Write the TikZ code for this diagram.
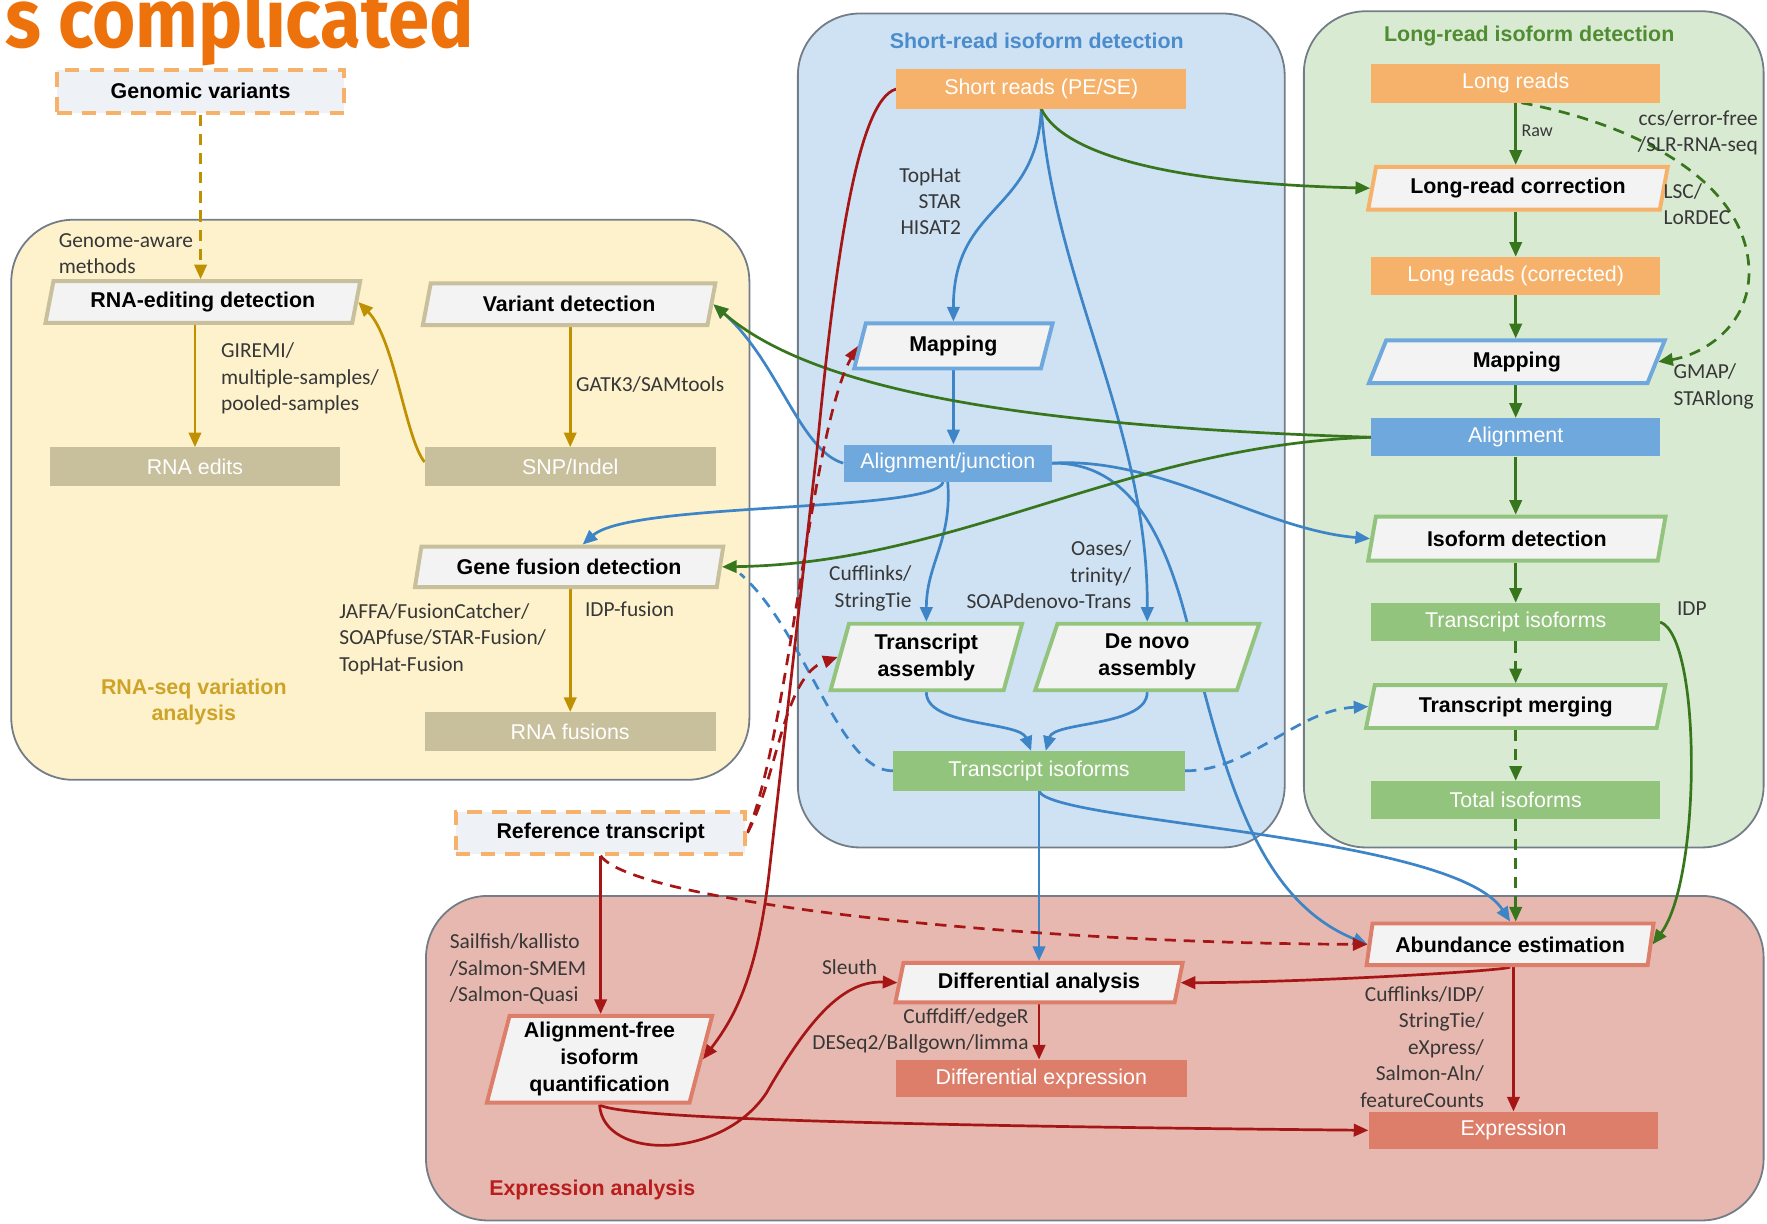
\documentclass[tikz,border=0pt]{standalone}
\usepackage{fontspec}
\usepackage{graphicx}
\setmainfont{Liberation Sans}
\newfontfamily\labfont{Carlito}
\newfontfamily\titlefont{Fira Sans}
\usetikzlibrary{shapes.geometric,arrows.meta}
\pgfdeclarelayer{panels}
\pgfdeclarelayer{edges}
\pgfsetlayers{panels,edges,main}
\definecolor{titleorange}{RGB}{238,114,12}
\definecolor{yfill}{RGB}{254,242,205}
\definecolor{bfill}{RGB}{207,226,243}
\definecolor{gfill}{RGB}{217,234,211}
\definecolor{rfill}{RGB}{231,184,175}
\definecolor{panelline}{RGB}{115,125,135}
\definecolor{procfill}{RGB}{243,243,243}
\definecolor{dfill}{RGB}{238,241,246}
\definecolor{orangebox}{RGB}{246,178,107}
\definecolor{bluebox}{RGB}{111,168,220}
\definecolor{greenbox}{RGB}{147,196,125}
\definecolor{tanbox}{RGB}{200,191,156}
\definecolor{salmonbox}{RGB}{221,126,107}
\definecolor{ochre}{RGB}{191,144,0}
\definecolor{ablue}{RGB}{61,133,198}
\definecolor{agreen}{RGB}{56,118,29}
\definecolor{ared}{RGB}{166,22,22}
\definecolor{toolgray}{RGB}{55,55,55}
\definecolor{ytitle}{RGB}{205,163,40}
\definecolor{btitle}{RGB}{75,140,205}
\definecolor{gtitle}{RGB}{80,140,50}
\definecolor{rtitle}{RGB}{185,30,30}
\tikzset{
 panel/.style={draw=panelline, line width=1.6pt, rounded corners=55pt},
 data/.style={rectangle, draw=none, text=white, minimum height=34pt, inner sep=0pt, font=\fontsize{19}{23}\selectfont},
 proc/.style={trapezium, trapezium left angle=76, trapezium right angle=104, trapezium stretches=true, fill=procfill, line width=3.5pt, inner sep=2pt, align=center, font=\bfseries\fontsize{19}{24}\selectfont},
 dbox/.style={rectangle, draw=orangebox, fill=dfill, line width=3.5pt, dash pattern=on 13pt off 9pt, inner sep=0pt, font=\bfseries\fontsize{19}{23}\selectfont},
 tool/.style={font=\labfont\fontsize{19}{23.5}\selectfont, text=toolgray, inner sep=0pt},
 ptitle/.style={font=\bfseries\fontsize{19}{23}\selectfont, inner sep=0pt, align=center},
 ar/.style={line width=2.4pt, -{Triangle[length=13pt,width=11pt]}},
 yar/.style={ar, draw=ochre},
 bar/.style={ar, draw=ablue},
 gar/.style={ar, draw=agreen},
 rar/.style={ar, draw=ared},
 dsh/.style={dash pattern=on 10pt off 7pt}
}
\begin{document}
\begin{tikzpicture}[x=1pt,y=-1pt]
\useasboundingbox (0,0) rectangle (1568,1086);

% title
\node[anchor=base east, text=titleorange, inner sep=0pt] (ttl) at (421,42)
  {\scalebox{0.89}[1]{\titlefont\bfseries\fontsize{74}{74}\selectfont ’s complicated}};

% panel titles
\node[ptitle, text=btitle] (sttl) at (920,36) {Short-read isoform detection};
\node[ptitle, text=gtitle] (lttl) at (1357,32) {Long-read isoform detection};
\node[ptitle, text=ytitle] (yttl) at (172,623) {RNA-seq variation\\analysis};
\node[ptitle, text=rtitle, anchor=west] (rttl) at (434,1056) {Expression analysis};

% dashed input boxes
\node[dbox, minimum width=255pt, minimum height=38pt] (genvar) at (178,81) {Genomic variants};
\node[dbox, minimum width=257pt, minimum height=37pt] (reftr) at (533,739) {Reference transcript};

% variation panel
\node[proc, draw=tanbox, minimum width=280pt, minimum height=37pt] (rnaed) at (180,268) {RNA-editing detection};
\node[proc, draw=tanbox, minimum width=260pt, minimum height=37pt] (vardet) at (505,270) {Variant detection};
\node[proc, draw=tanbox, minimum width=274pt, minimum height=36pt] (gfd) at (505,503) {Gene fusion detection};
\node[data, fill=tanbox, minimum width=258pt] (rnaedits) at (173,414) {RNA edits};
\node[data, fill=tanbox, minimum width=258pt] (snp) at (506,414) {SNP/Indel};
\node[data, fill=tanbox, minimum width=258pt] (rnafus) at (506,649) {RNA fusions};

% short-read panel
\node[data, fill=orangebox, minimum width=257pt, minimum height=35pt] (sreads) at (924,79) {Short reads (PE/SE)};
\node[proc, draw=bluebox, minimum width=177pt, minimum height=40pt] (mapS) at (846,307) {Mapping};
\node[data, fill=bluebox, minimum width=185pt, minimum height=33pt] (alj) at (841,411) {Alignment/junction};
\node[proc, draw=greenbox, minimum width=170pt, minimum height=59pt] (tasm) at (822,583) {Transcript\\assembly};
\node[proc, draw=greenbox, minimum width=199pt, minimum height=59pt] (dnovo) at (1018,583) {De novo\\assembly};
\node[data, fill=greenbox, minimum width=259pt, minimum height=35pt] (tisoS) at (922,684) {Transcript isoforms};

% long-read panel
\node[data, fill=orangebox, minimum width=256pt] (lreads) at (1345,74) {Long reads};
\node[proc, draw=orangebox, minimum width=266pt, minimum height=38pt] (lrc) at (1347,167) {Long-read correction};
\node[data, fill=orangebox, minimum width=256pt] (lrcorr) at (1345,245) {Long reads (corrected)};
\node[proc, draw=bluebox, minimum width=264pt, minimum height=38pt] (mapL) at (1346,321) {Mapping};
\node[data, fill=bluebox, minimum width=256pt] (alnL) at (1345,388) {Alignment};
\node[proc, draw=greenbox, minimum width=264pt, minimum height=39pt] (isod) at (1346,478) {Isoform detection};
\node[data, fill=greenbox, minimum width=256pt] (tisoL) at (1345,552) {Transcript isoforms};
\node[proc, draw=greenbox, minimum width=266pt, minimum height=38pt] (tmerge) at (1345,627) {Transcript merging};
\node[data, fill=greenbox, minimum width=256pt] (totiso) at (1345,710) {Total isoforms};

% expression panel
\node[proc, draw=salmonbox, minimum width=255pt, minimum height=37pt] (abund) at (1340,838) {Abundance estimation};
\node[proc, draw=salmonbox, minimum width=255pt, minimum height=35pt] (diffa) at (922,872) {Differential analysis};
\node[proc, draw=salmonbox, minimum width=200pt, minimum height=77pt] (afq) at (532,940) {Alignment-free\\isoform\\quantification};
\node[data, fill=salmonbox, minimum width=258pt, minimum height=33pt] (diffexp) at (924,957) {Differential expression};
\node[data, fill=salmonbox, minimum width=257pt, minimum height=33pt] (expr) at (1343,1003) {Expression};

% tool labels
\node[tool, anchor=west, align=left] (lgen) at (52,225) {Genome-aware\\methods};
\node[tool, anchor=west, align=left] (lgir) at (196,336) {GIREMI/\\multiple-samples/\\pooled-samples};
\node[tool, anchor=west] (lgatk) at (511,341) {GATK3/SAMtools};
\node[tool, anchor=west, align=left] (ljaffa) at (301,567) {JAFFA/FusionCatcher/\\SOAPfuse/STAR-Fusion/\\TopHat-Fusion};
\node[tool, anchor=west] (lidpf) at (519,541) {IDP-fusion};
\node[tool, anchor=east, align=right] (ltop) at (853,179) {TopHat\\STAR\\HISAT2};
\node[tool, anchor=east, align=right] (lcuff) at (809,522) {Cufflinks/\\StringTie};
\node[tool, anchor=east, align=right] (loas) at (1004,510) {Oases/\\trinity/\\SOAPdenovo-Trans};
\node[tool, anchor=west, font=\labfont\fontsize{16}{19}\selectfont] (lraw) at (1350,116) {Raw};
\node[tool, anchor=east, align=right] (lccs) at (1560,118) {ccs/error-free\\/SLR-RNA-seq};
\node[tool, anchor=west, align=left] (llsc) at (1476,181) {LSC/\\LoRDEC};
\node[tool, anchor=west, align=left] (lgmap) at (1485,343) {GMAP/\\STARlong};
\node[tool, anchor=west] (lidp) at (1488,540) {IDP};
\node[tool, anchor=west, align=left] (lsail) at (399,860) {Sailfish/kallisto\\/Salmon-SMEM\\/Salmon-Quasi};
\node[tool] (lsle) at (754,858) {Sleuth};
\node[tool, anchor=east, align=right] (lcdiff) at (913,915) {Cuffdiff/edgeR\\DESeq2/Ballgown/limma};
\node[tool, anchor=east, align=right] (lcl) at (1317,929) {Cufflinks/IDP/\\StringTie/\\eXpress/\\Salmon-Aln/\\featureCounts};

\begin{pgfonlayer}{panels}
\fill[bfill, rounded corners=55pt] (708,12) rectangle (1140,752);
\draw[panel] (708,12) rectangle (1140,752);
\fill[gfill, rounded corners=55pt] (1157,10) rectangle (1565,752);
\draw[panel] (1157,10) rectangle (1565,752);
\fill[rfill, rounded corners=55pt] (378,795) rectangle (1565,1083);
\draw[panel] (378,795) rectangle (1565,1083);
\fill[yfill, rounded corners=55pt] (10,195) rectangle (665,692);
\draw[panel] (10,195) rectangle (665,692);
\end{pgfonlayer}

\begin{pgfonlayer}{edges}
% yellow
\draw[yar, dsh] (genvar.south) -- (genvar.south |- rnaed.north);
\draw[yar] (rnaedits.north |- rnaed.south) -- (rnaedits.north);
\draw[yar] (snp.north |- vardet.south) -- (snp.north);
\draw[yar] ([yshift=4pt]snp.west) .. controls (360,390) and (350,300) .. (rnaed.east);
\draw[yar] (rnafus.north |- gfd.south) -- (rnafus.north);
% blue
\draw[bar] (sreads.south) .. controls (920,190) and (846,180) .. (mapS.north);
\draw[bar] (sreads.south) .. controls (935,250) and (1019,380) .. (dnovo.north);
\draw[bar] (mapS.south) -- (mapS.south |- alj.north);
\draw[bar] (alj.west) .. controls (710,400) and (690,320) .. (vardet.east);
\draw[bar] ([xshift=-4pt]alj.south) .. controls (830,455) and (560,445) .. ([xshift=12pt]gfd.north);
\draw[bar] (alj.south) .. controls (845,480) and (822,500) .. (tasm.north);
\draw[bar] (alj.east) .. controls (1030,405) and (1120,470) .. (isod.west);
\draw[bar] (alj.east) .. controls (1010,410) and (1040,490) .. (1060,580) .. controls (1090,700) and (1120,800) .. (abund.west);
\draw[bar] (tasm.south) .. controls (822,645) and (905,640) .. ([xshift=-7pt]tisoS.north);
\draw[bar] (dnovo.south) .. controls (1018,645) and (935,640) .. ([xshift=6pt]tisoS.north);
\draw[bar] (tisoS.south) -- (tisoS.south |- diffa.north);
\draw[bar] (tisoS.south) .. controls (930,730) and (1290,740) .. (abund.north);
\draw[ablue, line width=2.4pt, dsh] (tisoS.west) .. controls (745,685) and (715,560) .. ([xshift=16pt,yshift=-6pt]gfd.east);
\draw[bar, dsh] (tisoS.east) .. controls (1110,684) and (1150,630) .. (tmerge.west);
% green
\draw[gar] (lreads.south) -- (lreads.south |- lrc.north);
\draw[gar] (lrcorr.north |- lrc.south) -- (lrcorr.north);
\draw[gar] (lrcorr.south) -- (lrcorr.south |- mapL.north);
\draw[gar] (alnL.north |- mapL.south) -- (alnL.north);
\draw[gar] (alnL.south) -- (alnL.south |- isod.north);
\draw[gar] (tisoL.north |- isod.south) -- (tisoL.north);
\draw[gar, dsh] (tisoL.south) -- (tisoL.south |- tmerge.north);
\draw[gar, dsh] (totiso.north |- tmerge.south) -- (totiso.north);
\draw[gar, dsh] (totiso.south) -- (totiso.south |- abund.north);
\draw[gar, dsh] ([xshift=5pt]lreads.south) .. controls (1450,110) and (1550,160) .. (1552,240) .. controls (1553,290) and (1510,315) .. (mapL.east);
\draw[gar] (sreads.south) .. controls (945,140) and (1050,163) .. (lrc.west);
\draw[gar] (alnL.west) .. controls (900,378) and (720,345) .. (vardet.east);
\draw[gar] (alnL.west) .. controls (1000,395) and (850,500) .. (gfd.east);
\draw[gar] (tisoL.east) .. controls (1510,565) and (1510,780) .. (abund.east);
% red
\draw[rar] (sreads.west) .. controls (762,88) and (742,220) .. (725,399) -- (683,770) .. controls (672,870) and (650,905) .. (afq.east);
\draw[rar, dsh] (reftr.east) .. controls (700,650) and (720,380) .. (mapS.west);
\draw[rar, dsh] (reftr.east) .. controls (690,690) and (695,600) .. (tasm.west);
\draw[rar] (reftr.south) -- (reftr.south |- afq.north);
\draw[rar, dsh] (reftr.south) .. controls (560,800) and (900,837) .. (abund.west);
\draw[rar] (afq.south) .. controls (545,990) and (700,998) .. (expr.west);
\draw[rar] (afq.south) .. controls (535,1030) and (640,1030) .. (680,970) .. controls (720,900) and (750,870) .. (diffa.west);
\draw[rar] (abund.south) .. controls (1330,862) and (1150,872) .. (diffa.east);
\draw[rar] (expr.north |- abund.south) -- (expr.north);
\draw[rar] (diffa.south) -- (diffa.south |- diffexp.north);
\end{pgfonlayer}
\end{tikzpicture}
\end{document}
